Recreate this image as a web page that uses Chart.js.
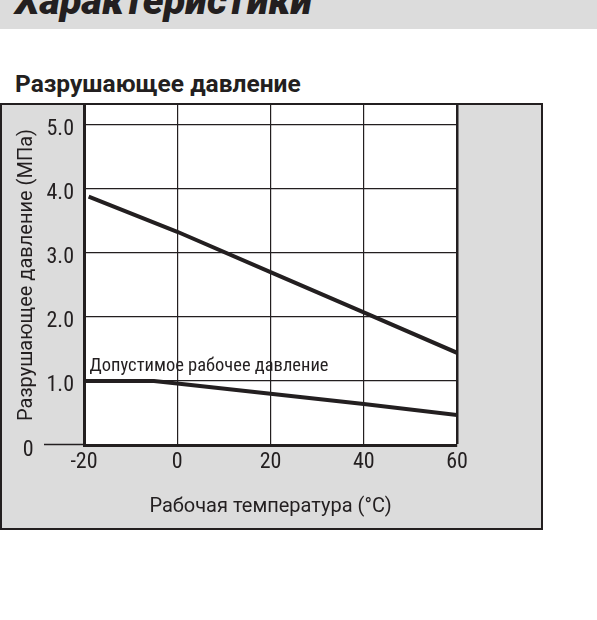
<!DOCTYPE html>
<html>
<head>
<meta charset="utf-8">
<script src="https://cdn.jsdelivr.net/npm/chart.js@4"></script>
<style>
html,body{margin:0;padding:0;background:#fff;width:597px;height:620px;overflow:hidden;}
#hdr{position:absolute;left:0;top:0;width:597px;height:29px;background:#dcdcdc;overflow:hidden;}
#hdr span{position:absolute;left:15px;top:-19px;font-family:Roboto,"Liberation Sans",sans-serif;font-style:italic;font-weight:900;font-size:39.6px;line-height:39.6px;color:#231f20;white-space:nowrap;}
#sub{position:absolute;left:15px;top:72px;font-family:Roboto,"Liberation Sans",sans-serif;font-weight:bold;font-size:24.5px;line-height:24px;color:#231f20;white-space:nowrap;}
#box{position:absolute;left:0;top:103px;width:543px;height:427px;box-sizing:border-box;border:2px solid #231f20;background:#dcdcdc;}
#wrap{position:absolute;left:0;top:0;width:539px;height:423px;}
</style>
</head>
<body>
<div id="hdr"><span>Характеристики</span></div>
<div id="sub">Разрушающее давление</div>
<div id="box"><div id="wrap"><canvas id="c"></canvas></div></div>
<script>
// ---- data ----
const xTicks = [-20, 0, 20, 40, 60];
const yTicks = [0, 1, 2, 3, 4, 5];
const yTickLabels = ['0', '1.0', '2.0', '3.0', '4.0', '5.0'];
const burstTemp = [-19, 0, 20, 40, 60];
const burstPressure = [3.88, 3.33, 2.70, 2.07, 1.44];
const workTemp = [-20, -5, 0, 20, 40, 60];
const workPressure = [1.0, 1.0, 0.96, 0.80, 0.64, 0.47];
const noteText = 'Допустимое рабочее давление';
const notePos = [-18.8, 1.23];
const xTitle = 'Рабочая температура (°C)';
const yTitle = 'Разрушающее давление (МПа)';

const FAM = 'Roboto, "Liberation Sans", sans-serif';
const NARROW = 'semi-condensed';   // font-stretch passed through the font shorthand
const INK = '#231f20';

// pad zero label so it sits left of the extended tick
const mctx = document.createElement('canvas').getContext('2d');
mctx.font = NARROW + ' 22px ' + FAM;
function padLabel(s, shift) {
  let p = s;
  const base = mctx.measureText(s).width;
  while (mctx.measureText(p).width - base < shift) p += ' ';
  return p;
}

const plotBg = {
  id: 'plotBg',
  beforeDraw(chart) {
    const {ctx, chartArea: a} = chart;
    ctx.save();
    ctx.fillStyle = '#ffffff';
    ctx.fillRect(a.left, a.top, a.right - a.left, a.bottom - a.top);
    ctx.restore();
  }
};
const note = {
  id: 'note',
  afterDatasetsDraw(chart) {
    const {ctx, scales} = chart;
    ctx.save();
    ctx.font = NARROW + ' 18.5px ' + FAM;
    ctx.fillStyle = INK;
    ctx.textAlign = 'left';
    ctx.textBaseline = 'middle';
    ctx.fillText(noteText, scales.x.getPixelForValue(notePos[0]), scales.y.getPixelForValue(notePos[1]));
    ctx.restore();
  }
};

new Chart(document.getElementById('c'), {
  type: 'line',
  data: {
    datasets: [
      {
        data: burstTemp.map((x, i) => ({x, y: burstPressure[i]})),
        borderColor: INK, borderWidth: 4, pointRadius: 0, fill: false, tension: 0,
        borderCapStyle: 'butt'
      },
      {
        data: workTemp.map((x, i) => ({x, y: workPressure[i]})),
        borderColor: INK, borderWidth: 4, pointRadius: 0, fill: false, tension: 0,
        borderCapStyle: 'butt'
      }
    ]
  },
  options: {
    responsive: true,
    maintainAspectRatio: false,
    animation: false,
    layout: {padding: {left: 0, right: 84, top: 0, bottom: 0}},
    plugins: {legend: {display: false}, tooltip: {enabled: false}},
    scales: {
      x: {
        type: 'linear', min: -20, max: 60,
        afterBuildTicks: s => { s.ticks = xTicks.map(v => ({value: v})); },
        afterFit: s => { s.height = 83; },
        grid: {
          color: INK,
          lineWidth: c => (c.tick && c.tick.value === 60) ? 2.5 : 1.2,
          drawTicks: false
        },
        border: {color: INK, width: 3},
        ticks: {
          color: INK, font: {family: FAM, size: 22, weight: NARROW}, padding: 4, maxRotation: 0,
          callback: v => String(v)
        },
        title: {
          display: true, text: xTitle, color: INK,
          font: {family: FAM, size: 20}, padding: {top: 0, bottom: 9}
        }
      },
      y: {
        type: 'linear', min: 0, max: 5.31,
        afterBuildTicks: s => { s.ticks = yTicks.map(v => ({value: v})); },
        afterFit: s => { s.width = 82; },
        grid: {
          color: INK, lineWidth: 1.2,
          tickLength: 40,
          tickColor: c => (c.tick && c.tick.value === 0) ? INK : 'rgba(0,0,0,0)',
          tickWidth: 1.5
        },
        border: {color: INK, width: 3},
        ticks: {
          color: INK, font: {family: FAM, size: 22, weight: NARROW}, padding: -30, labelOffset: 5,
          callback: (v) => {
            const i = yTicks.indexOf(v);
            const s = i >= 0 ? yTickLabels[i] : '';
            return v === 0 ? padLabel(s, 36) : s;
          }
        },
        title: {
          display: true, text: yTitle, color: INK,
          font: {family: FAM, size: 20}, padding: {top: 13, bottom: 0}
        }
      }
    }
  },
  plugins: [plotBg, note]
});
</script>
</body>
</html>
